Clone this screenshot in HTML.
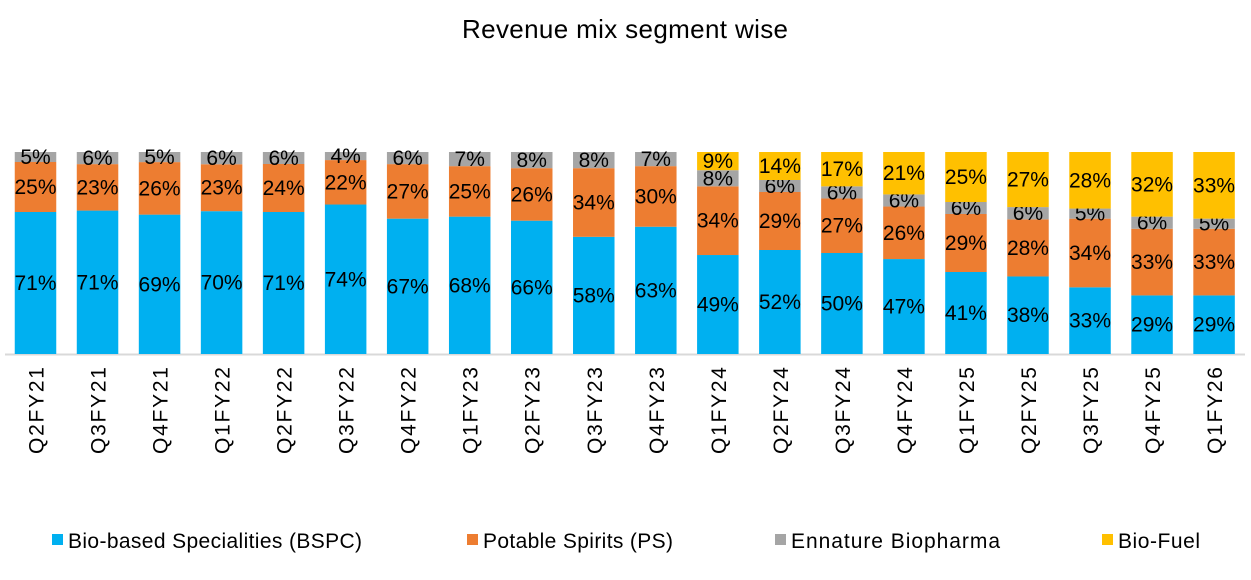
<!DOCTYPE html>
<html><head><meta charset="utf-8"><style>
body{margin:0;background:#fff;}
svg text{font-family:"Liberation Sans",Carlito,sans-serif;}
</style></head><body>
<svg id="c" width="1251" height="575" xmlns="http://www.w3.org/2000/svg">
<text x="625" y="38" text-anchor="middle" font-size="26" fill="#000" textLength="326">Revenue mix segment wise</text>
<line x1="5" y1="354.5" x2="1245" y2="354.5" stroke="#d9d9d9" stroke-width="2"/>
<g id="bars"></g><g id="xl"></g>
<g id="legend"></g>
</svg>
<script>
const categories=["Q2FY21","Q3FY21","Q4FY21","Q1FY22","Q2FY22","Q3FY22","Q4FY22","Q1FY23","Q2FY23","Q3FY23","Q4FY23","Q1FY24","Q2FY24","Q3FY24","Q4FY24","Q1FY25","Q2FY25","Q3FY25","Q4FY25","Q1FY26"];
const bspc=[71,71,69,70,71,74,67,68,66,58,63,49,52,50,47,41,38,33,29,29];
const ps=[25,23,26,23,24,22,27,25,26,34,30,34,29,27,26,29,28,34,33,33];
const ennature=[5,6,5,6,6,4,6,7,8,8,7,8,6,6,6,6,6,5,6,5];
const biofuel=[0,0,0,0,0,0,0,0,0,0,0,9,14,17,21,25,27,28,32,33];
const seriesNames=["Bio-based Specialities (BSPC)","Potable Spirits (PS)","Ennature Biopharma","Bio-Fuel"];
const colors=["#00b0f0","#ed7d31","#a5a5a5","#ffc000"];
const series=[bspc,ps,ennature,biofuel];
const NS="http://www.w3.org/2000/svg";
const y0=354,plotH=202,x0=35.5,step=62.03,bw=41.5;
const xPos=i=>x0+i*step;
const yScale=f=>y0-f*plotH;
const bars=document.getElementById('bars'),xl=document.getElementById('xl'),lg=document.getElementById('legend');
categories.forEach((cat,i)=>{
  const tot=series.reduce((s,a)=>s+a[i],0);
  let cum=0;
  series.forEach((arr,k)=>{
    const v=arr[i]; if(!v) return;
    const yt=yScale((cum+v)/tot), yb=yScale(cum/tot); cum+=v;
    const r=document.createElementNS(NS,'rect');
    r.setAttribute('x',xPos(i)-bw/2);r.setAttribute('y',yt);r.setAttribute('width',bw);r.setAttribute('height',yb-yt);r.setAttribute('fill',colors[k]);
    
    
    bars.appendChild(r);
    const t=document.createElementNS(NS,'text');
    t.setAttribute('x',xPos(i));t.setAttribute('y',(yt+yb)/2+7);t.setAttribute('text-anchor','middle');t.setAttribute('font-size','21');
    t.textContent=v+'%';
    
    
    bars.appendChild(t);
  });
  const t=document.createElementNS(NS,'text');
  t.setAttribute('transform','translate('+(xPos(i)+8)+',367) rotate(-90)');
  t.setAttribute('text-anchor','end');t.setAttribute('font-size','21');
  t.setAttribute('textLength','87');
  t.textContent=cat;
  
  
  xl.appendChild(t);
});
const lx=[52,467,775,1102];
const lw=[294,190,209,82];
seriesNames.forEach((n,k)=>{
  const r=document.createElementNS(NS,'rect');
  r.setAttribute('x',lx[k]);r.setAttribute('y',534);r.setAttribute('width',11);r.setAttribute('height',11);r.setAttribute('fill',colors[k]);
  
  
  lg.appendChild(r);
  const t=document.createElementNS(NS,'text');
  t.setAttribute('x',lx[k]+16);t.setAttribute('y',548);t.setAttribute('font-size','21');
  t.setAttribute('textLength',lw[k]);
  t.textContent=n;
  
  
  lg.appendChild(t);
});
</script>
</body></html>
